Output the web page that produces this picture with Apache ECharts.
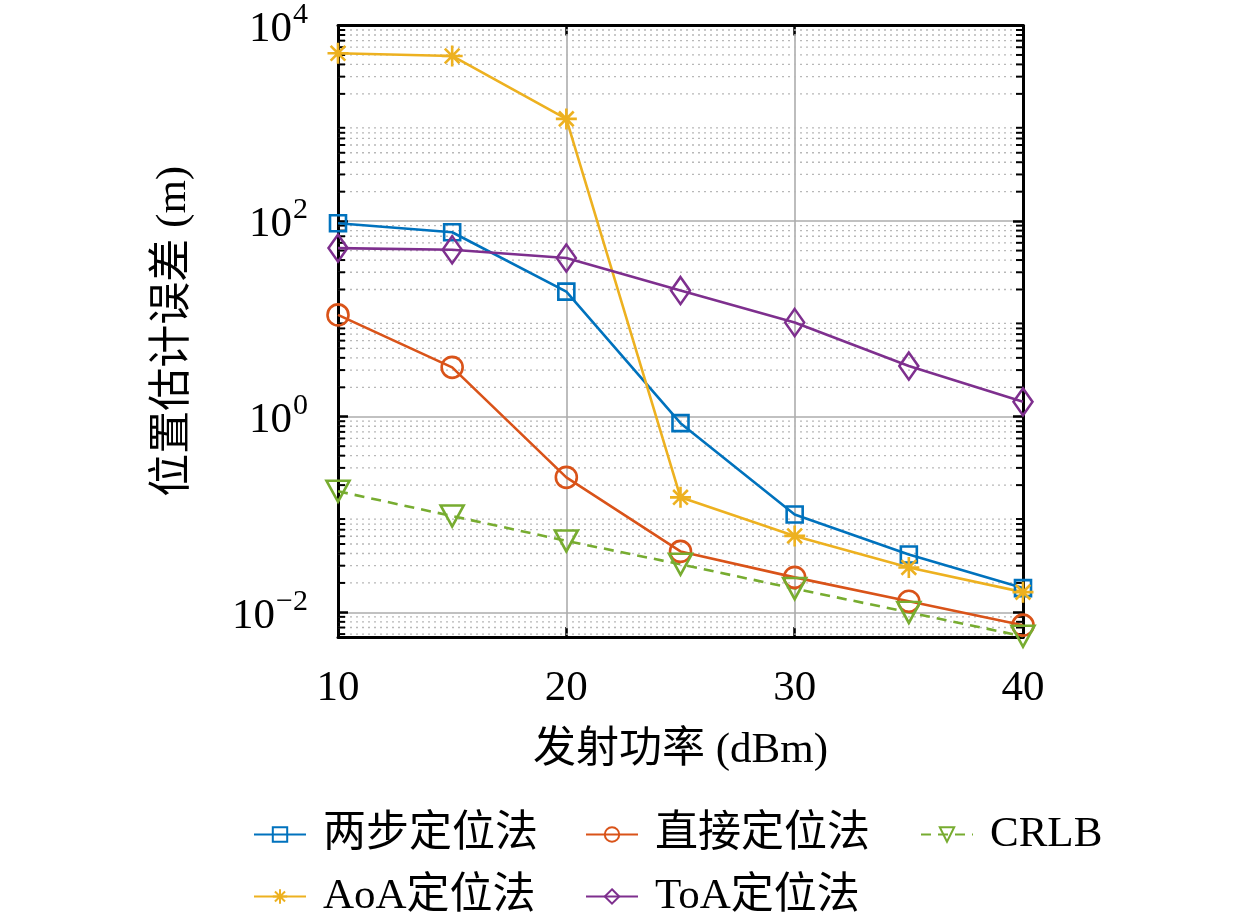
<!DOCTYPE html>
<html>
<head>
<meta charset="utf-8">
<script src="https://cdn.jsdelivr.net/npm/echarts@6/dist/echarts.min.js"></script>
<style>
html, body { margin: 0; padding: 0; background: #fff; }
#main { width: 1260px; height: 918px; }
</style>
</head>
<body>
<div id="main"></div>
<script>
// 横轴：发射功率 (dBm)
var power = [10, 15, 20, 25, 30, 35, 40];
// 各方法的位置估计误差 (m)
var twoStep = [95, 77, 19, 0.86, 0.1, 0.039, 0.0177];
var direct = [11, 3.2, 0.24, 0.042, 0.0228, 0.013, 0.0074];
var aoa = [5200, 4880, 1110, 0.15, 0.0605, 0.0288, 0.0161];
var toa = [53, 51, 42, 19.5, 9.2, 3.3, 1.42];
var crlb = [0.173, 0.0966, 0.0538, 0.031, 0.0175, 0.01, 0.0057];
// 刻度
var xTicks = [10, 20, 30, 40];
var yTickValues = [0.01, 1, 100, 10000];
var yTickExps = ['\u22122', '0', '2', '4'];
var yMin = 0.0056, yMax = 10000;

var serif = '"Liberation Serif", "Noto Sans CJK SC", serif';
var fs = 43;

// 次网格线 2..9 x 10^k
var minorVals = [];
for (var k = -3; k < 4; k++) {
	for (var m = 2; m <= 9; m++) {
		var v = m * Math.pow(10, k);
		if (v > yMin && v < yMax) minorVals.push([10, v]);
	}
}

var myChart = echarts.init(document.getElementById('main'));

function mk(name, data, color, symbol, size, dashed, rotate) {
	return {
		name: name,
		type: 'line',
		data: power.map(function (p, i) { return [p, data[i]]; }),
		symbol: symbol,
		symbolSize: size,
		symbolRotate: rotate || 0,
		showAllSymbol: true,
		lineStyle: { color: color, width: 2.6, type: dashed ? [10, 7] : 'solid' },
		itemStyle: { color: 'rgba(0,0,0,0)', borderColor: color, borderWidth: 2.6 },
		emphasis: { disabled: true },
		z: 3
	};
}

var star = 'path://M10,0L10,20M0,10L20,10M3,3L17,17M3,17L17,3';

function leg(name, left, top) {
	return {
		data: [name],
		left: left,
		top: top,
		itemWidth: 52,
		itemHeight: 18,
		itemGap: 0,
		selectedMode: false,
		textStyle: { fontFamily: serif, fontSize: fs, color: '#000', padding: [0, 0, 0, 12] }
	};
}

var option = {
	animation: false,
	backgroundColor: '#fff',
	grid: { left: 338, right: 237, top: 21, bottom: 281 },
	legend: [
		leg('两步定位法', 248, 808),
		leg('直接定位法', 580, 808),
		leg('CRLB', 915, 808),
		leg('AoA定位法', 248, 870),
		leg('ToA定位法', 580, 870)
	],
	xAxis: [{
		type: 'value',
		min: 10,
		max: 40,
		interval: 10,
		name: '发射功率 (dBm)',
		nameLocation: 'middle',
		nameGap: 92,
		nameTextStyle: { fontFamily: serif, fontSize: fs, color: '#000' },
		axisLine: { lineStyle: { color: '#000', width: 3 } },
		axisTick: { inside: true, length: 10, lineStyle: { color: '#000', width: 2.5 } },
		axisLabel: { fontFamily: serif, fontSize: fs, color: '#000', margin: 30 },
		splitLine: { show: true, lineStyle: { color: '#adadad', width: 1.6 } }
	}, {
		type: 'value',
		position: 'top',
		min: 10,
		max: 40,
		interval: 10,
		axisLine: { lineStyle: { color: '#000', width: 3 } },
		axisTick: { inside: true, length: 10, lineStyle: { color: '#000', width: 2.5 } },
		axisLabel: { show: false },
		splitLine: { show: false }
	}],
	yAxis: [{
		type: 'log',
		logBase: 10,
		min: yMin,
		max: yMax,
		name: '位置估计误差 (m)',
		nameLocation: 'middle',
		nameGap: 143,
		nameTextStyle: { fontFamily: serif, fontSize: fs, color: '#000' },
		axisLine: { show: true, lineStyle: { color: '#000', width: 3 } },
		axisTick: { inside: true, length: 10, customValues: yTickValues, lineStyle: { color: '#000', width: 2.5 } },
		axisLabel: {
			customValues: yTickValues,
			margin: 30,
			formatter: function (val) {
				var i = -1;
				for (var j = 0; j < yTickValues.length; j++) {
					if (Math.abs(Math.log10(val) - Math.log10(yTickValues[j])) < 1e-6) i = j;
				}
				if (i < 0) return '';
				return '{b|10}{s|' + yTickExps[i] + '}';
			},
			rich: {
				b: { fontFamily: serif, fontSize: fs, color: '#000', verticalAlign: 'bottom' },
				s: { fontFamily: serif, fontSize: 30, color: '#000', verticalAlign: 'bottom', padding: [0, 0, 21, 1] }
			}
		},
		splitLine: { show: true, lineStyle: { color: '#adadad', width: 1.6 } }
	}, {
		type: 'log',
		logBase: 10,
		position: 'right',
		min: yMin,
		max: yMax,
		axisLine: { show: true, lineStyle: { color: '#000', width: 3 } },
		axisTick: { inside: true, length: 10, customValues: yTickValues, lineStyle: { color: '#000', width: 2.5 } },
		axisLabel: { show: false },
		splitLine: { show: false }
	}],
	series: [
		{
			type: 'custom',
			silent: true,
			data: minorVals,
			z: 1,
			renderItem: function (params, api) {
				var v = api.value(1);
				var p0 = api.coord([10, v]);
				var p1 = api.coord([40, v]);
				return {
					type: 'group',
					children: [
						{ type: 'line', shape: { x1: p0[0], y1: p0[1], x2: p1[0], y2: p1[1] },
							style: { stroke: '#b8b8b8', lineWidth: 1.3, lineDash: [2, 4] } },
						{ type: 'line', shape: { x1: p0[0], y1: p0[1], x2: p0[0] + 7, y2: p0[1] },
							style: { stroke: '#000', lineWidth: 2 } },
						{ type: 'line', shape: { x1: p1[0] - 7, y1: p1[1], x2: p1[0], y2: p1[1] },
							style: { stroke: '#000', lineWidth: 2 } }
					]
				};
			}
		},
		mk('两步定位法', twoStep, '#0072BD', 'rect', 16),
		mk('AoA定位法', aoa, '#EDB120', star, 21),
		mk('直接定位法', direct, '#D95319', 'circle', 21),
		mk('ToA定位法', toa, '#7E2F8E', 'diamond', [19, 27]),
		mk('CRLB', crlb, '#77AC30', 'triangle', [23, 21], true, 180)
	]
};
myChart.setOption(option);
</script>
</body>
</html>
